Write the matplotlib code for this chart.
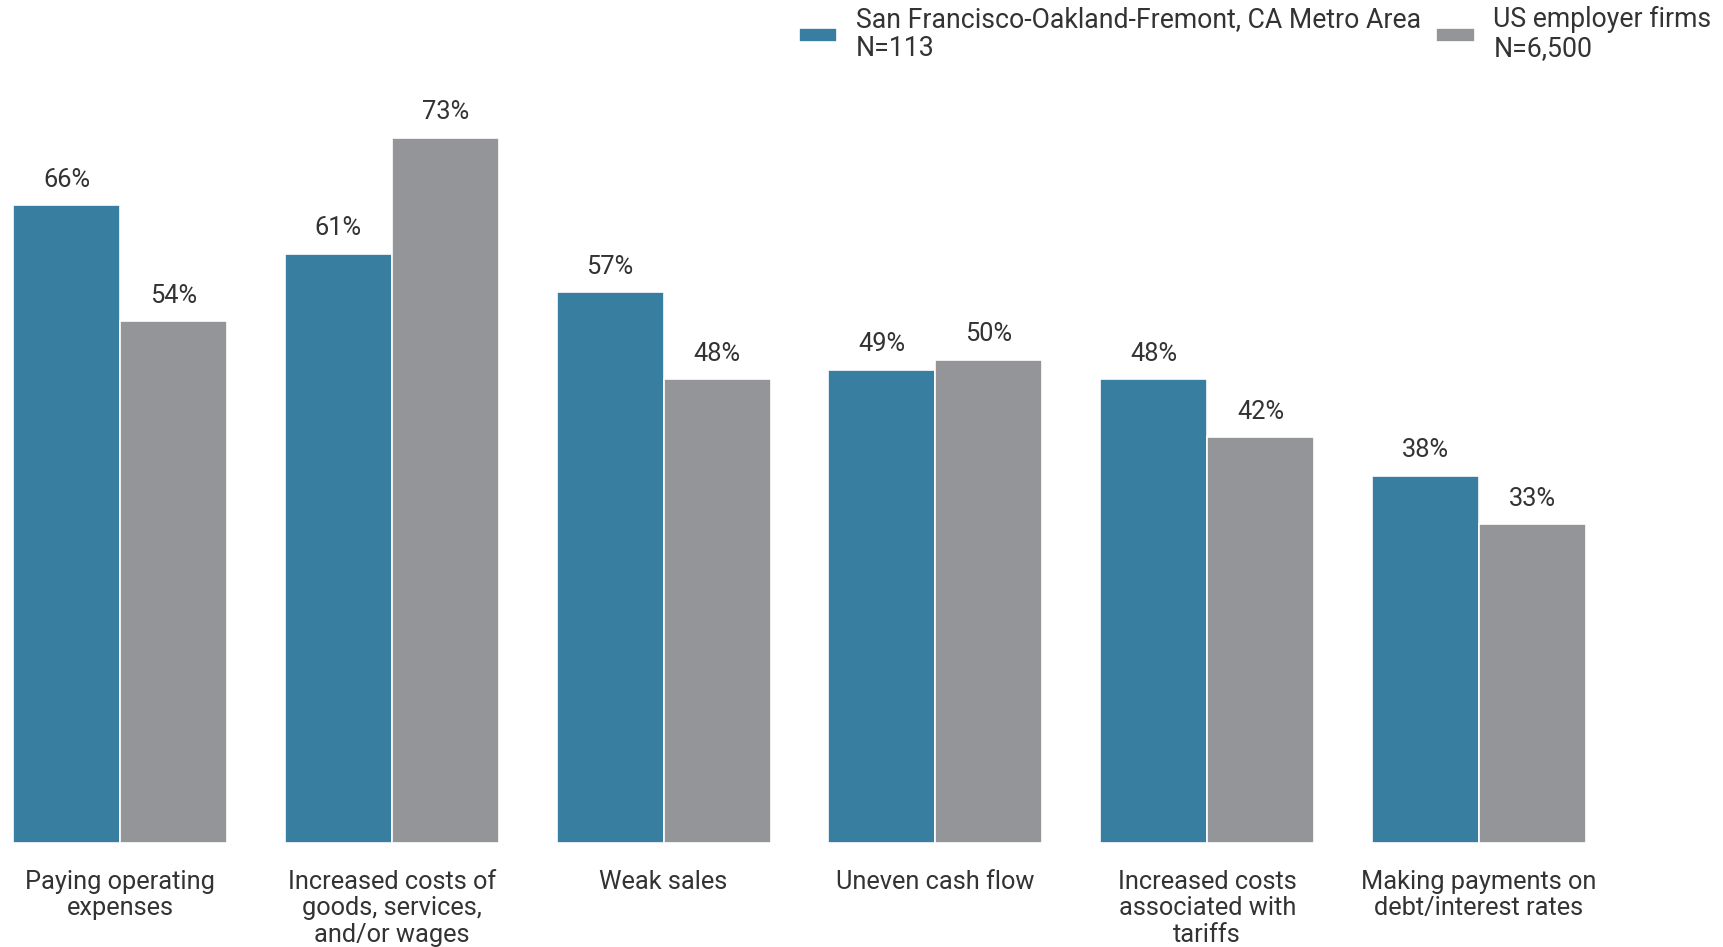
import matplotlib.pyplot as plt
import numpy as np

plt.rcParams['font.family'] = ['Roboto', 'DejaVu Sans']

categories = [
    "Paying operating\nexpenses",
    "Increased costs of\ngoods, services,\nand/or wages",
    "Weak sales",
    "Uneven cash flow",
    "Increased costs\nassociated with\ntariffs",
    "Making payments on\ndebt/interest rates",
]
metro = [66, 61, 57, 49, 48, 38]
us_firms = [54, 73, 48, 50, 42, 33]
series_names = ["San Francisco-Oakland-Fremont, CA Metro Area\nN=113",
                "US employer firms\nN=6,500"]
colors = ["#387ea1", "#949599"]

W, H = 1724, 947
base = 843  # bar baseline, px from top
fig = plt.figure(figsize=(W / 100, H / 100), dpi=100)
ax = fig.add_axes([0, (H - base) / H, 1, base / H])

x = np.arange(len(categories))
w = 0.394
ax.bar(x - w / 2, metro, w, color=colors[0], edgecolor="white", linewidth=1.2, label=series_names[0])
ax.bar(x + w / 2, us_firms, w, color=colors[1], edgecolor="white", linewidth=1.2, label=series_names[1])

for xi, v in zip(x - w / 2, metro):
    ax.text(xi, v + 2.65, f"{v}%", ha="center", va="center", fontsize=18.3, color="#333333")
for xi, v in zip(x + w / 2, us_firms):
    ax.text(xi, v + 2.65, f"{v}%", ha="center", va="center", fontsize=18.3, color="#333333")

ax.set_xlim(-120 / 271.8, (W - 120) / 271.8)
ax.set_ylim(0, base / 9.66)
ax.set_xticks(x)
ax.set_xticklabels(categories, fontsize=18.3, color="#333333", va="top", linespacing=1.12)
ax.tick_params(axis="x", length=0, pad=19.5)
ax.set_yticks([])
for s in ax.spines.values():
    s.set_visible(False)

leg = ax.legend(loc="upper right", bbox_to_anchor=(0.999, 1.006), ncol=2, frameon=False,
                fontsize=19.2, handlelength=1.44, handleheight=0.42, handletextpad=0.7,
                columnspacing=0.58, borderaxespad=0.0, labelspacing=0.3)
for t in leg.get_texts():
    t.set_color("#333333")
    t.set_linespacing(1.1)

fig.savefig("out.png", dpi=100)
